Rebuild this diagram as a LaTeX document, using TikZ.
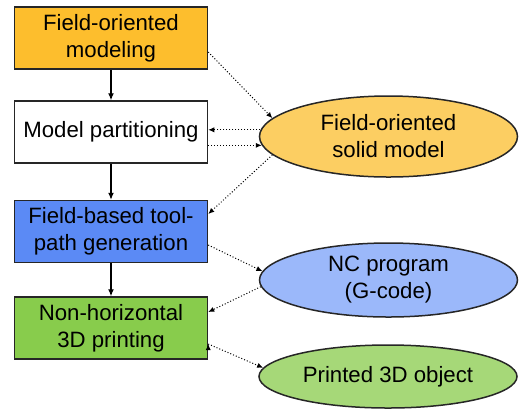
\documentclass[tikz,border=0pt]{standalone}
\usepackage{fontspec}
\setmainfont{Liberation Sans}
\usetikzlibrary{shapes.geometric,arrows.meta}

\definecolor{modelfill}{RGB}{253,190,45}
\definecolor{solidfill}{RGB}{252,206,98}
\definecolor{pathfill}{RGB}{91,138,245}
\definecolor{ncfill}{RGB}{155,184,250}
\definecolor{printfill}{RGB}{136,204,76}
\definecolor{objectfill}{RGB}{166,216,120}

\tikzset{
    stage/.style={draw=black!85, line width=0.75pt, minimum width=96.5pt,
        minimum height=31pt, align=center, inner sep=1pt},
    result/.style={ellipse, draw=black!85, line width=0.75pt,
        minimum width=129pt, align=center, inner sep=0pt},
    flow/.style={-{Latex[length=3.5pt,width=3pt]}, line width=0.6pt},
    link/.style={-{Latex[length=3pt,width=2.6pt]}, densely dotted, line width=0.5pt}
}

\begin{document}
\begin{tikzpicture}[x=0.5pt, y=-0.5pt, font=\fontsize{11.1}{13.5}\selectfont]
        \useasboundingbox (0,0) rectangle (520,409);

        % process steps
        \node[stage, fill=modelfill] (M) at (111, 38) {Field-oriented\\modeling};
        \node[stage, fill=white] (P) at (111, 132) {Model partitioning};
        \node[stage, fill=pathfill] (G) at (111, 231.5) {Field-based tool-\\path generation};
        \node[stage, fill=printfill] (N) at (111, 328) {Non-horizontal\\3D printing};

        % data produced along the way
        \node[result, fill=solidfill, minimum height=40.5pt] (S) at (388.5, 136.5) {Field-oriented\\solid model};
        \node[result, fill=ncfill, minimum height=37pt] (C) at (388.5, 280) {NC program\\(G-code)};
        \node[result, fill=objectfill, minimum height=31.5pt] (O) at (388, 376.5) {Printed 3D object};

        \draw[flow]
            (M) edge (P)
            (P) edge (G)
            (G) edge (N)
        ;

        \draw[link]
            ([yshift=-7pt]M.east) edge (S.171)
            (S.177) edge (S.177 -| P.east)
            (P.east |- S.184) edge (S.184)
            (S.189) edge ([yshift=8.75pt]G.east)
            ([yshift=-6.75pt]G.east) edge (C.176)
            (C.183) edge ([yshift=8pt]N.east)
            ([yshift=-8pt]N.east) edge (O.176)
        ;
    \end{tikzpicture}
\end{document}
